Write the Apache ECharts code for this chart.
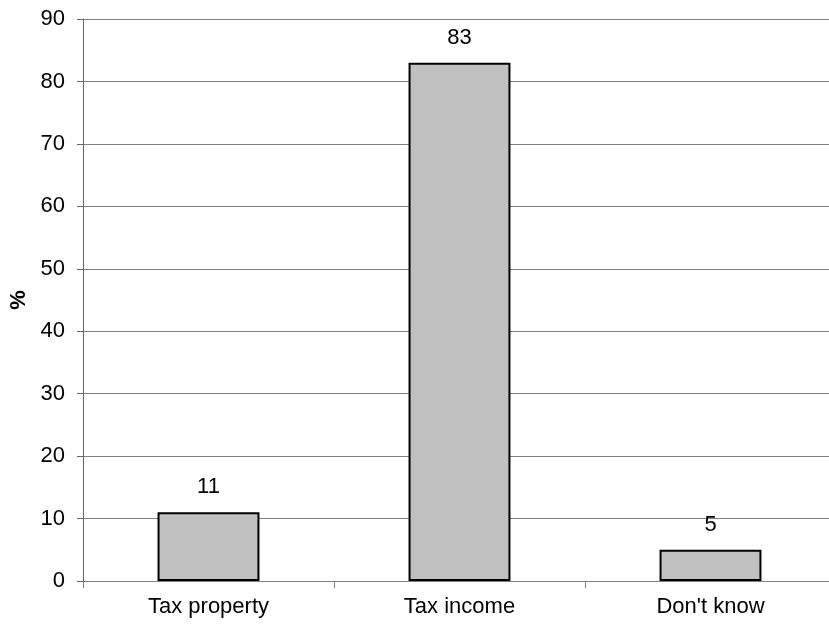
<!DOCTYPE html>
<html>
<head>
<meta charset="utf-8">
<script src="https://cdn.jsdelivr.net/npm/echarts@6/dist/echarts.min.js"></script>
<style>
  html, body { margin: 0; padding: 0; background: #fff; }
  #chart { width: 829px; height: 626px; }
</style>
</head>
<body>
<div id="chart"></div>
<script>
// Survey answers, in percent
const categories = ['Tax property', 'Tax income', "Don't know"];
const shares = [11, 83, 5];
const yTicks = { min: 0, max: 90, step: 10 };

const FONT = '"Liberation Sans", Arial, sans-serif';

const chart = echarts.init(document.getElementById('chart'), null, { renderer: 'canvas' });

chart.setOption({
  animation: false,
  backgroundColor: '#ffffff',
  textStyle: { fontFamily: FONT },
  grid: {
    left: 83, right: -7, top: 19, bottom: 45,
    containLabel: false,
    outerBoundsMode: 'none'
  },
  xAxis: {
    type: 'category',
    data: categories,
    boundaryGap: true,
    axisLine: { show: true, lineStyle: { color: '#808080', width: 1 } },
    axisTick: { show: true, inside: false, length: 7, lineStyle: { color: '#808080' } },
    axisLabel: { color: '#000', fontSize: 22, fontFamily: FONT, margin: 15 },
    splitLine: { show: false }
  },
  yAxis: {
    type: 'value',
    min: yTicks.min,
    max: yTicks.max,
    interval: yTicks.step,
    name: '%',
    nameLocation: 'middle',
    nameRotate: 90,
    nameGap: 53,
    nameTextStyle: { color: '#000', fontSize: 22, fontWeight: 'bold', fontFamily: FONT },
    axisLine: { show: true, lineStyle: { color: '#666666', width: 1 } },
    axisTick: { show: true, inside: false, length: 6, lineStyle: { color: '#666666' } },
    axisLabel: { color: '#000', fontSize: 22, fontFamily: FONT, margin: 18 },
    splitLine: { show: true, lineStyle: { color: '#808080', width: 1 } }
  },
  series: [{
    type: 'bar',
    data: shares,
    barWidth: '40.6%',
    itemStyle: { color: '#c0c0c0', borderColor: '#000000', borderWidth: 2 },
    label: {
      show: true,
      position: 'top',
      distance: 14,
      color: '#000',
      fontSize: 22,
      fontFamily: FONT
    }
  }]
});
</script>
</body>
</html>
